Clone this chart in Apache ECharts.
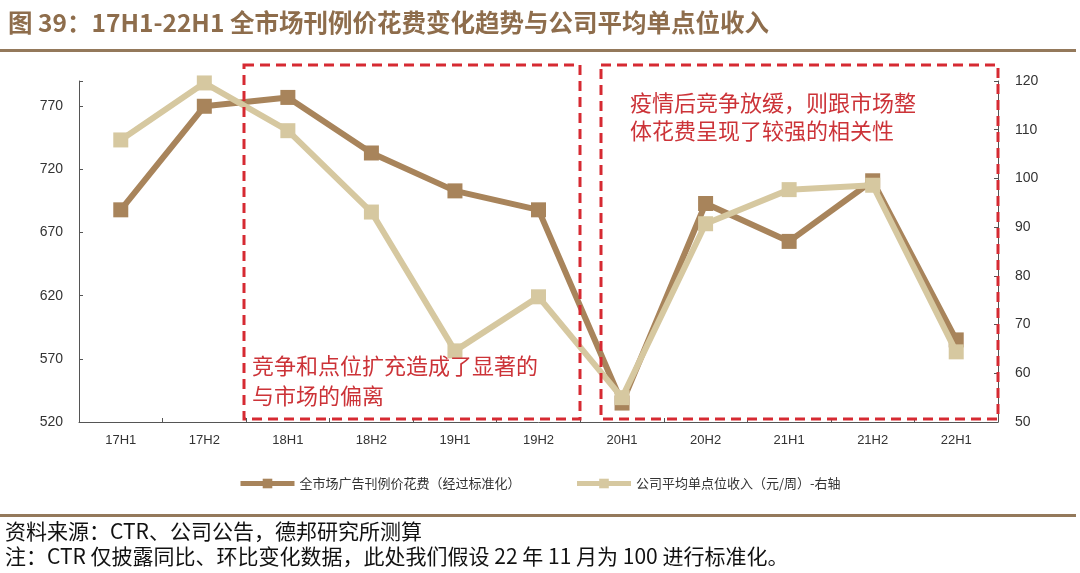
<!DOCTYPE html>
<html>
<head>
<meta charset="utf-8">
<script src="https://cdn.jsdelivr.net/npm/echarts@6/dist/echarts.min.js"></script>
<style>
html,body{margin:0;padding:0;background:#fff;}
#main{width:1080px;height:573px;}
</style>
</head>
<body>
<div id="main"></div>
<script>
const categories = ['17H1','17H2','18H1','18H2','19H1','19H2','20H1','20H2','21H1','21H2','22H1'];
const marketSpend = [688, 770, 777, 733, 703, 688, 535, 693, 663, 711, 585];
const unitRevenue = [107.9, 119.6, 109.8, 93.1, 64.6, 75.7, 55.0, 90.7, 97.7, 98.6, 64.4];
const leftTicks = [520, 570, 620, 670, 720, 770];
const rightTicks = [50, 60, 70, 80, 90, 100, 110, 120];
const seriesNames = ['全市场广告刊例价花费（经过标准化）', '公司平均单点位收入（元/周）-右轴'];
const titleText = '图 39：17H1-22H1 全市场刊例价花费变化趋势与公司平均单点位收入';
const sourceText = '资料来源：CTR、公司公告，德邦研究所测算';
const noteText = '注：CTR 仅披露同比、环比变化数据，此处我们假设 22 年 11 月为 100 进行标准化。';
const note1 = ['竞争和点位扩充造成了显著的', '与市场的偏离'];
const note2 = ['疫情后竞争放缓，则跟市场整', '体花费呈现了较强的相关性'];

const BROWN = '#A8845B';
const TAN = '#D6C8A0';
const RED = '#D62A32';
const TXTRED = '#CC3338';
const TITLE = '#8E6D4C';
const RULE = '#94795B';
const CJK = '"Noto Sans CJK SC", "Liberation Sans", sans-serif';
const LAT = '"Liberation Sans", Arial, sans-serif';

const chart = echarts.init(document.getElementById('main'), null, {renderer: 'canvas'});

const dashedBox = (x, y, w, h) => ({
  type: 'rect',
  shape: {x: x, y: y, width: w, height: h},
  style: {fill: 'none', stroke: RED, lineWidth: 3, lineDash: [10, 6]},
  z: 50
});
const redText = (x, y, t) => ({
  type: 'text', x: x, y: y,
  style: {text: t, fill: TXTRED, font: '22px ' + CJK, textVerticalAlign: 'middle'},
  z: 60
});

const option = {
  backgroundColor: '#fff',
  animation: false,
  grid: {left: 79, right: 82, top: 81, bottom: 151},
  legend: {
    left: 233, top: 472,
    itemWidth: 54, itemHeight: 12, itemGap: 54,
    lineStyle: {width: 5},
    textStyle: {fontFamily: CJK, fontSize: 13, color: '#333'},
    data: seriesNames
  },
  xAxis: {
    type: 'category',
    data: categories,
    boundaryGap: true,
    axisLine: {lineStyle: {color: '#555', width: 1}},
    axisTick: {show: true, inside: true, length: 4, lineStyle: {color: '#555'}},
    axisLabel: {fontFamily: LAT, fontSize: 13, color: '#333', margin: 12}
  },
  yAxis: [
    {
      type: 'value', min: 520, max: 790, interval: 50,
      splitLine: {show: false},
      axisLine: {show: true, lineStyle: {color: '#555'}},
      axisTick: {show: true, inside: true, length: 4, lineStyle: {color: '#555'}},
      axisLabel: {
        fontFamily: LAT, fontSize: 14, color: '#333', margin: 16,
        formatter: v => leftTicks.indexOf(v) >= 0 ? String(v) : ''
      }
    },
    {
      type: 'value', min: 50, max: 120, interval: 10,
      position: 'right',
      splitLine: {show: false},
      axisLine: {show: true, lineStyle: {color: '#555'}},
      axisTick: {show: true, inside: true, length: 4, lineStyle: {color: '#555'}},
      axisLabel: {
        fontFamily: LAT, fontSize: 14, color: '#333', margin: 17,
        formatter: v => rightTicks.indexOf(v) >= 0 ? String(v) : ''
      }
    }
  ],
  series: [
    {
      name: seriesNames[0], type: 'line', yAxisIndex: 0,
      data: marketSpend,
      symbol: 'rect', symbolSize: 15,
      lineStyle: {color: BROWN, width: 6},
      itemStyle: {color: BROWN},
      z: 3
    },
    {
      name: seriesNames[1], type: 'line', yAxisIndex: 1,
      data: unitRevenue,
      symbol: 'rect', symbolSize: 15,
      lineStyle: {color: TAN, width: 6},
      itemStyle: {color: TAN},
      z: 4
    }
  ],
  graphic: [
    {type: 'text', x: 8, y: 23, style: {text: titleText, fill: TITLE, font: 'bold 24.5px ' + CJK, textVerticalAlign: 'middle'}},
    {type: 'rect', shape: {x: 0, y: 49, width: 1076, height: 3}, style: {fill: RULE}},
    {type: 'rect', shape: {x: 0, y: 514, width: 1076, height: 3}, style: {fill: RULE}},
    {type: 'text', x: 5, y: 531, style: {text: sourceText, fill: '#111', font: '21px ' + CJK, textVerticalAlign: 'middle'}},
    {type: 'text', x: 5, y: 556, style: {text: noteText, fill: '#111', font: '21px ' + CJK, textVerticalAlign: 'middle'}},
    dashedBox(244, 65, 336, 354),
    dashedBox(601, 65, 397, 354),
    redText(252, 366, note1[0]),
    redText(252, 396, note1[1]),
    redText(630, 103, note2[0]),
    redText(630, 131, note2[1])
  ]
};
chart.setOption(option);
</script>
</body>
</html>
